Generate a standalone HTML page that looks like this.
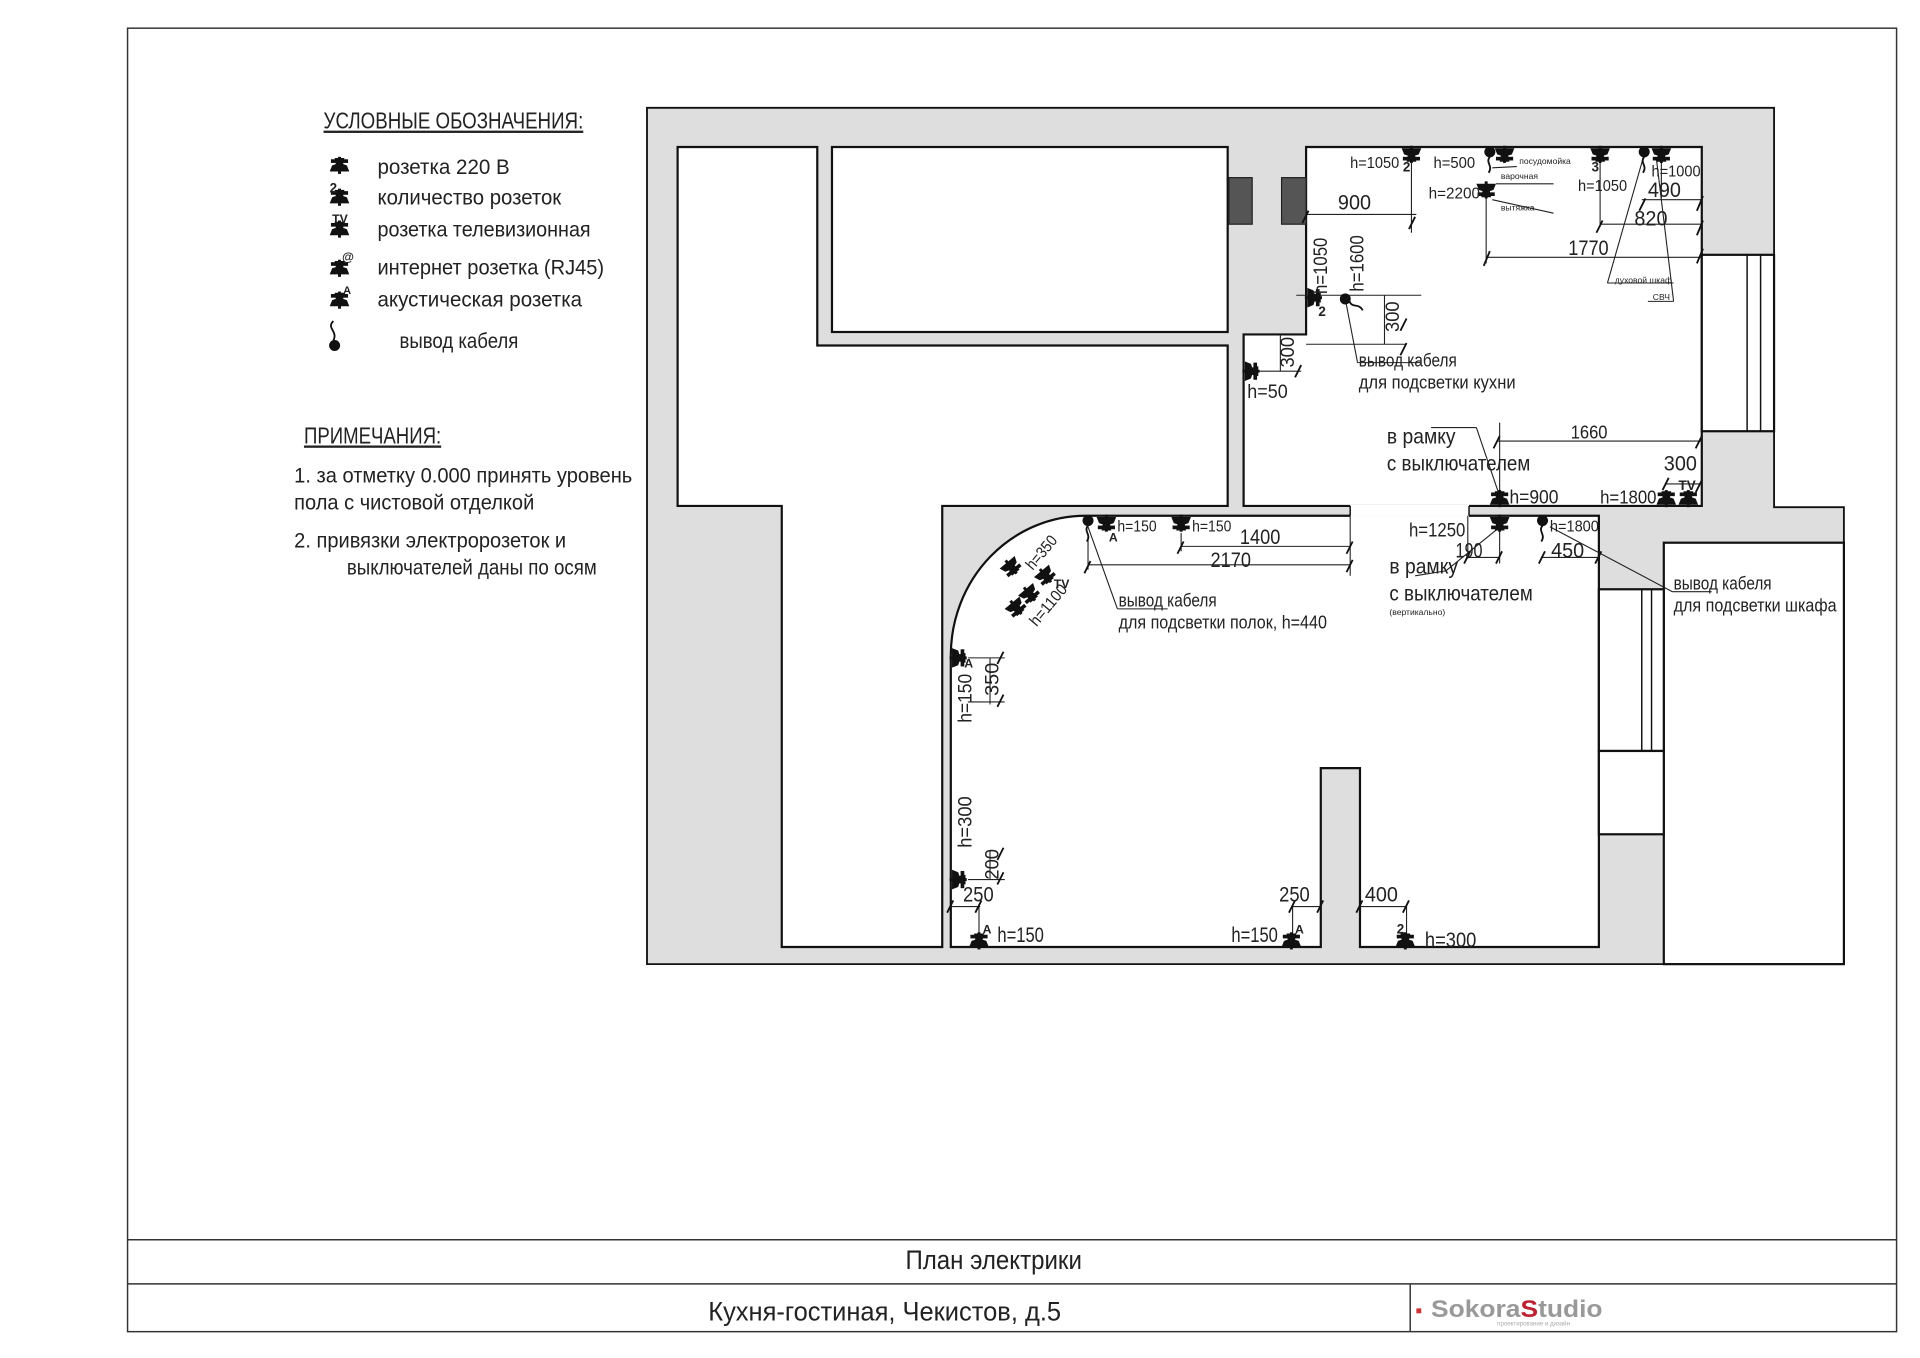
<!DOCTYPE html>
<html><head><meta charset="utf-8"><style>
html,body{margin:0;padding:0;background:#fff;}
svg{display:block;}
text{font-family:"Liberation Sans Narrow","Liberation Sans","DejaVu Sans Condensed",sans-serif;fill:#222;}
</style></head><body>
<svg width="1920" height="1358" viewBox="0 0 1567 1108.5" xmlns="http://www.w3.org/2000/svg">
<defs>
<g id="s"><path d="M-8,0 L8,0 L6,5 L3,6 L4,11 L-4,11 L-3,6 L-6,5Z" fill="#111"/><rect x="-1.2" y="-2" width="2.4" height="14" fill="#111"/><rect x="-7" y="7" width="14" height="3" fill="#111"/></g>
<g id="c"><circle cx="0" cy="0" r="4.5" fill="#111"/><path d="M0,4 C-4,9 3,11 -1,17" stroke="#111" stroke-width="1.5" fill="none"/></g>
</defs>
<rect width="1567" height="1108.5" fill="#fff"/>
<g stroke="#333" stroke-width="1.2" fill="none">
<rect x="104" y="23" width="1444" height="1064"/>
<line x1="104" y1="1012" x2="1548" y2="1012"/>
<line x1="104" y1="1048" x2="1548" y2="1048"/>
<line x1="1151" y1="1048" x2="1151" y2="1087"/>
</g>
<path d="M528,88 H1448 V414 H1505 V787 H528 Z" fill="#dedede" stroke="#111" stroke-width="1.5"/>
<g fill="#fff" stroke="#111" stroke-width="1.8">
<path d="M553,120 H667 V282 H1002 V413 H769 V773 H638 V413 H553 Z"/>
<rect x="679" y="120" width="323" height="151"/>
<path d="M1066,120 H1389 V413 H1015 V273 H1066 Z"/>
<path d="M886,421 H1305 V773 H1110 V627 H1078 V773 H776 V535 A110,114 0 0 1 886,421 Z"/>
<rect x="1358" y="443" width="147" height="344"/>
<rect x="1389" y="208" width="59" height="144"/>
<rect x="1305" y="481" width="53" height="132"/>
<rect x="1305" y="613" width="53" height="68"/>
</g>
<rect x="1102" y="412" width="97" height="10" fill="#fff"/>
<g stroke="#111" stroke-width="1.2">
<line x1="1102" y1="413" x2="1102" y2="421"/><line x1="1199" y1="413" x2="1199" y2="421"/>
<line x1="1426" y1="208" x2="1426" y2="352"/><line x1="1437" y1="208" x2="1437" y2="352"/>
<line x1="1340" y1="481" x2="1340" y2="613"/><line x1="1348" y1="481" x2="1348" y2="613"/>
</g>
<rect x="1003" y="145" width="19" height="38" fill="#555" stroke="#222"/>
<rect x="1046" y="145" width="20" height="38" fill="#555" stroke="#222"/>

<text x="264" y="105" font-size="19" text-decoration="underline" textLength="212" lengthAdjust="spacingAndGlyphs">УСЛОВНЫЕ ОБОЗНАЧЕНИЯ:</text>
<g font-size="17">
<text x="308" y="142" textLength="108" lengthAdjust="spacingAndGlyphs">розетка 220 В</text>
<text x="308" y="167" textLength="150" lengthAdjust="spacingAndGlyphs">количество розеток</text>
<text x="308" y="193" textLength="174" lengthAdjust="spacingAndGlyphs">розетка телевизионная</text>
<text x="308" y="224" textLength="185" lengthAdjust="spacingAndGlyphs">интернет розетка (RJ45)</text>
<text x="308" y="250" textLength="167" lengthAdjust="spacingAndGlyphs">акустическая розетка</text>
<text x="326" y="284" textLength="97" lengthAdjust="spacingAndGlyphs">вывод кабеля</text>
</g>
<use href="#s" transform="translate(277,140) rotate(180)"/>
<use href="#s" transform="translate(277,166) rotate(180)"/><text x="269" y="157" font-size="11" font-weight="bold">2</text>
<use href="#s" transform="translate(277,192) rotate(180)"/><text x="271" y="182" font-size="10" font-weight="bold">TV</text>
<use href="#s" transform="translate(277,224) rotate(180)"/><text x="279" y="213" font-size="10" font-weight="bold">@</text>
<use href="#s" transform="translate(277,250) rotate(180)"/><text x="280" y="240" font-size="9" font-weight="bold">A</text>
<path d="M272,262 C266,268 276,270 272,278" stroke="#111" stroke-width="1.5" fill="none"/><circle cx="273" cy="282" r="4.5" fill="#111"/>

<text x="248" y="362" font-size="19" text-decoration="underline" textLength="112" lengthAdjust="spacingAndGlyphs">ПРИМЕЧАНИЯ:</text>
<g font-size="17">
<text x="240" y="394" textLength="276" lengthAdjust="spacingAndGlyphs">1. за отметку 0.000 принять уровень</text>
<text x="240" y="416" textLength="196" lengthAdjust="spacingAndGlyphs">пола с чистовой отделкой</text>
<text x="240" y="447" textLength="222" lengthAdjust="spacingAndGlyphs">2. привязки электророзеток и</text>
<text x="283" y="469" textLength="204" lengthAdjust="spacingAndGlyphs">выключателей даны по осям</text>
</g>

<text x="739" y="1036" font-size="22" textLength="144" lengthAdjust="spacingAndGlyphs">План электрики</text>
<text x="578" y="1078" font-size="22" textLength="288" lengthAdjust="spacingAndGlyphs">Кухня-гостиная, Чекистов,  д.5</text>
<rect x="1156" y="1068" width="4" height="4" fill="#c33"/>
<text x="1168" y="1075" font-size="20" font-weight="bold" textLength="140" lengthAdjust="spacingAndGlyphs" style="font-family:'Liberation Sans',sans-serif;fill:#999">Sokora<tspan style="fill:#b23">S</tspan>tudio</text>
<text x="1222" y="1082" font-size="5" style="fill:#aaa">проектирование и дизайн</text>

<g stroke="#222" stroke-width="0.9" fill="none">
<line x1="1066" y1="175" x2="1156" y2="175"/><line x1="1152" y1="120" x2="1152" y2="190"/>
<line x1="1213" y1="160" x2="1213" y2="215"/><line x1="1213" y1="210" x2="1389" y2="210"/>
<line x1="1306" y1="130" x2="1306" y2="185"/><line x1="1306" y1="183" x2="1389" y2="183"/>
<line x1="1356" y1="130" x2="1356" y2="162"/><line x1="1340" y1="163" x2="1389" y2="163"/>
<line x1="1058" y1="241" x2="1160" y2="241"/>
<line x1="1066" y1="281" x2="1148" y2="281"/><line x1="1130" y1="241" x2="1130" y2="281"/>
<line x1="1015" y1="303" x2="1062" y2="303"/><line x1="1045" y1="273" x2="1045" y2="303"/>
<line x1="1098" y1="244" x2="1108" y2="296"/><line x1="1108" y1="296" x2="1160" y2="296"/>
<line x1="1224" y1="345" x2="1224" y2="405"/><line x1="1222" y1="360" x2="1389" y2="360"/>
<line x1="1360" y1="395" x2="1389" y2="395"/>
<line x1="1168" y1="349" x2="1205" y2="349"/><line x1="1205" y1="349" x2="1224" y2="405"/>
<line x1="1342" y1="126" x2="1312" y2="231"/><line x1="1352" y1="130" x2="1366" y2="246"/>
<line x1="1312" y1="231" x2="1366" y2="231"/><line x1="1345" y1="246" x2="1366" y2="246"/>
<line x1="1218" y1="137" x2="1238" y2="136"/><line x1="1221" y1="150" x2="1268" y2="150"/>
<line x1="1218" y1="163" x2="1268" y2="174"/>
<line x1="964" y1="435" x2="964" y2="450"/><line x1="964" y1="446" x2="1102" y2="446"/>
<line x1="888" y1="440" x2="888" y2="465"/><line x1="888" y1="461" x2="1102" y2="461"/>
<line x1="1102" y1="421" x2="1102" y2="470"/>
<line x1="888" y1="430" x2="912" y2="497"/><line x1="912" y1="497" x2="953" y2="497"/>
<line x1="1198" y1="421" x2="1198" y2="456"/><line x1="1198" y1="455" x2="1224" y2="455"/><line x1="1224" y1="430" x2="1224" y2="460"/>
<line x1="1222" y1="432" x2="1180" y2="466"/><line x1="1155" y1="470" x2="1180" y2="466"/>
<line x1="1259" y1="455" x2="1305" y2="455"/>
<line x1="1265" y1="430" x2="1365" y2="483"/><line x1="1365" y1="483" x2="1397" y2="483"/>
<line x1="808" y1="537" x2="808" y2="575"/><line x1="790" y1="537" x2="820" y2="537"/><line x1="790" y1="573" x2="820" y2="573"/>
<line x1="808" y1="695" x2="808" y2="718"/><line x1="790" y1="718" x2="820" y2="718"/>
<line x1="776" y1="740" x2="800" y2="740"/><line x1="799" y1="740" x2="799" y2="765"/>
<line x1="1055" y1="740" x2="1078" y2="740"/><line x1="1055" y1="740" x2="1055" y2="765"/>
<line x1="1110" y1="740" x2="1148" y2="740"/><line x1="1148" y1="740" x2="1148" y2="765"/>
</g>
<g stroke="#111" stroke-width="1.5">
<path d="M1150,187 l5,-10 M1385,192 l5,-12 M1385,172 l5,-12 M1385,215 l5,-12 M1211,217 l5,-12 M1303,190 l5,-10 M1338,172 l5,-10 M1063,182 l5,-10 M1143,290 l5,-10 M1143,270 l5,-10 M1057,308 l5,-10 M1219,366 l5,-10 M1384,366 l5,-10 M1384,402 l5,-10 M1357,400 l5,-10 M961,452 l5,-10 M885,468 l5,-10 M1099,452 l5,-10 M1099,467 l5,-10 M1195,460 l5,-10 M1221,460 l5,-10 M1256,460 l5,-10 M1302,460 l5,-10 M814,542 l5,-10 M814,577 l5,-10 M814,722 l5,-10 M814,702 l5,-10 M773,745 l5,-10 M796,745 l5,-10 M1052,745 l5,-10 M1075,745 l5,-10 M1107,745 l5,-10 M1145,745 l5,-10"/>
</g>

<use href="#s" transform="translate(1152,121)"/>
<use href="#s" transform="translate(1228,121)"/>
<use href="#s" transform="translate(1306,121)"/>
<use href="#s" transform="translate(1356,121)"/>
<use href="#s" transform="translate(1213,150)"/>
<use href="#c" transform="translate(1216,124)"/>
<use href="#c" transform="translate(1342,124)"/>
<use href="#s" transform="translate(1067,243) rotate(-90)"/>
<use href="#c" transform="translate(1098,244) rotate(-60)"/>
<use href="#s" transform="translate(1016,303) rotate(-90)"/>
<use href="#s" transform="translate(1224,412) rotate(180)"/>
<use href="#s" transform="translate(1360,412) rotate(180)"/>
<use href="#s" transform="translate(1378,412) rotate(180)"/>
<use href="#c" transform="translate(888,425)"/>
<use href="#s" transform="translate(903,422)"/>
<use href="#s" transform="translate(964,422)"/>
<use href="#s" transform="translate(1224,422)"/>
<use href="#c" transform="translate(1259,425)"/>
<use href="#s" transform="translate(822,459) rotate(-40)"/>
<use href="#s" transform="translate(850,466) rotate(-40)"/>
<use href="#s" transform="translate(837,481) rotate(-40)"/>
<use href="#s" transform="translate(826,492) rotate(-40)"/>
<use href="#s" transform="translate(777,537) rotate(-90)"/>
<use href="#s" transform="translate(777,718) rotate(-90)"/>
<use href="#s" transform="translate(799,773) rotate(180)"/>
<use href="#s" transform="translate(1054,773) rotate(180)"/>
<use href="#s" transform="translate(1147,773) rotate(180)"/>

<g font-size="13">
<text x="1102" y="137" textLength="40" lengthAdjust="spacingAndGlyphs">h=1050</text><text x="1145" y="140" font-size="11" font-weight="bold">2</text>
<text x="1170" y="137" textLength="34" lengthAdjust="spacingAndGlyphs">h=500</text>
<text x="1166" y="162" textLength="42" lengthAdjust="spacingAndGlyphs">h=2200</text>
<text x="1288" y="156" textLength="40" lengthAdjust="spacingAndGlyphs">h=1050</text><text x="1299" y="140" font-size="11" font-weight="bold">3</text>
<text x="1348" y="144" textLength="40" lengthAdjust="spacingAndGlyphs">h=1000</text>
<text x="1076" y="258" font-size="11" font-weight="bold">2</text>
<text x="1018" y="325" font-size="16" textLength="33" lengthAdjust="spacingAndGlyphs">h=50</text>
<text x="1232" y="411" font-size="16" textLength="40" lengthAdjust="spacingAndGlyphs">h=900</text>
<text x="1306" y="411" font-size="15" textLength="46" lengthAdjust="spacingAndGlyphs">h=1800</text>
<text x="1370" y="400" font-size="11" font-weight="bold">TV</text>
<text x="912" y="434" textLength="32" lengthAdjust="spacingAndGlyphs">h=150</text><text x="905" y="442" font-size="10" font-weight="bold">A</text>
<text x="973" y="434" textLength="32" lengthAdjust="spacingAndGlyphs">h=150</text>
<text x="1150" y="438" font-size="16" textLength="46" lengthAdjust="spacingAndGlyphs">h=1250</text>
<text x="1265" y="434" textLength="40" lengthAdjust="spacingAndGlyphs">h=1800</text>
<text x="860" y="480" font-size="10" font-weight="bold">TV</text>
<text x="787" y="545" font-size="10" font-weight="bold">A</text>
<text x="802" y="762" font-size="10" font-weight="bold">A</text>
<text x="1057" y="762" font-size="10" font-weight="bold">A</text>
<text x="1140" y="762" font-size="11" font-weight="bold">2</text>
</g>
<g font-size="17">
<text x="1092" y="171" textLength="27" lengthAdjust="spacingAndGlyphs">900</text>
<text x="1345" y="161" textLength="27" lengthAdjust="spacingAndGlyphs">490</text>
<text x="1334" y="184" textLength="27" lengthAdjust="spacingAndGlyphs">820</text>
<text x="1280" y="208" textLength="33" lengthAdjust="spacingAndGlyphs">1770</text>
<text x="1282" y="358" font-size="15" textLength="30" lengthAdjust="spacingAndGlyphs">1660</text>
<text x="1358" y="384" textLength="27" lengthAdjust="spacingAndGlyphs">300</text>
<text x="1012" y="444" textLength="33" lengthAdjust="spacingAndGlyphs">1400</text>
<text x="988" y="463" textLength="33" lengthAdjust="spacingAndGlyphs">2170</text>
<text x="1188" y="455" textLength="22" lengthAdjust="spacingAndGlyphs">190</text>
<text x="1266" y="455" textLength="27" lengthAdjust="spacingAndGlyphs">450</text>
<text x="786" y="736" textLength="25" lengthAdjust="spacingAndGlyphs">250</text>
<text x="1044" y="736" textLength="25" lengthAdjust="spacingAndGlyphs">250</text>
<text x="1114" y="736" textLength="27" lengthAdjust="spacingAndGlyphs">400</text>
<text x="814" y="769" textLength="38" lengthAdjust="spacingAndGlyphs">h=150</text>
<text x="1005" y="769" textLength="38" lengthAdjust="spacingAndGlyphs">h=150</text>
<text x="1163" y="773" textLength="42" lengthAdjust="spacingAndGlyphs">h=300</text>
</g>
<g font-size="16">
<text transform="translate(1083,240) rotate(-90)" textLength="46" lengthAdjust="spacingAndGlyphs">h=1050</text>
<text transform="translate(1113,238) rotate(-90)" textLength="46" lengthAdjust="spacingAndGlyphs">h=1600</text>
<text transform="translate(1142,271) rotate(-90)" textLength="25" lengthAdjust="spacingAndGlyphs">300</text>
<text transform="translate(1056,300) rotate(-90)" textLength="25" lengthAdjust="spacingAndGlyphs">300</text>
<text transform="translate(793,590) rotate(-90)" textLength="40" lengthAdjust="spacingAndGlyphs">h=150</text>
<text transform="translate(815,568) rotate(-90)" textLength="27" lengthAdjust="spacingAndGlyphs">350</text>
<text transform="translate(793,692) rotate(-90)" textLength="42" lengthAdjust="spacingAndGlyphs">h=300</text>
<text transform="translate(815,718) rotate(-90)" textLength="25" lengthAdjust="spacingAndGlyphs">200</text>
<text transform="translate(843,466) rotate(-50)" font-size="13" textLength="32" lengthAdjust="spacingAndGlyphs">h=350</text>
<text transform="translate(846,512) rotate(-50)" font-size="13" textLength="40" lengthAdjust="spacingAndGlyphs">h=1100</text>
</g>
<g font-size="15">
<text x="1109" y="299" textLength="80" lengthAdjust="spacingAndGlyphs">вывод кабеля</text>
<text x="1109" y="317" textLength="128" lengthAdjust="spacingAndGlyphs">для подсветки кухни</text>
<text x="913" y="495" textLength="80" lengthAdjust="spacingAndGlyphs">вывод кабеля</text>
<text x="913" y="513" textLength="170" lengthAdjust="spacingAndGlyphs">для подсветки полок, h=440</text>
<text x="1366" y="481" textLength="80" lengthAdjust="spacingAndGlyphs">вывод кабеля</text>
<text x="1366" y="499" textLength="133" lengthAdjust="spacingAndGlyphs">для подсветки шкафа</text>
</g>
<g font-size="17">
<text x="1132" y="362" textLength="56" lengthAdjust="spacingAndGlyphs">в рамку</text>
<text x="1132" y="384" textLength="117" lengthAdjust="spacingAndGlyphs">с выключателем</text>
<text x="1134" y="468" textLength="56" lengthAdjust="spacingAndGlyphs">в рамку</text>
<text x="1134" y="490" textLength="117" lengthAdjust="spacingAndGlyphs">с выключателем</text>
</g>
<g font-size="7">
<text x="1134" y="502">(вертикально)</text>
<text x="1240" y="134">посудомойка</text>
<text x="1225" y="146">варочная</text>
<text x="1225" y="172">вытяжка</text>
<text x="1318" y="231">духовой шкаф</text>
<text x="1349" y="245">СВЧ</text>
</g>
</svg>
</body></html>
